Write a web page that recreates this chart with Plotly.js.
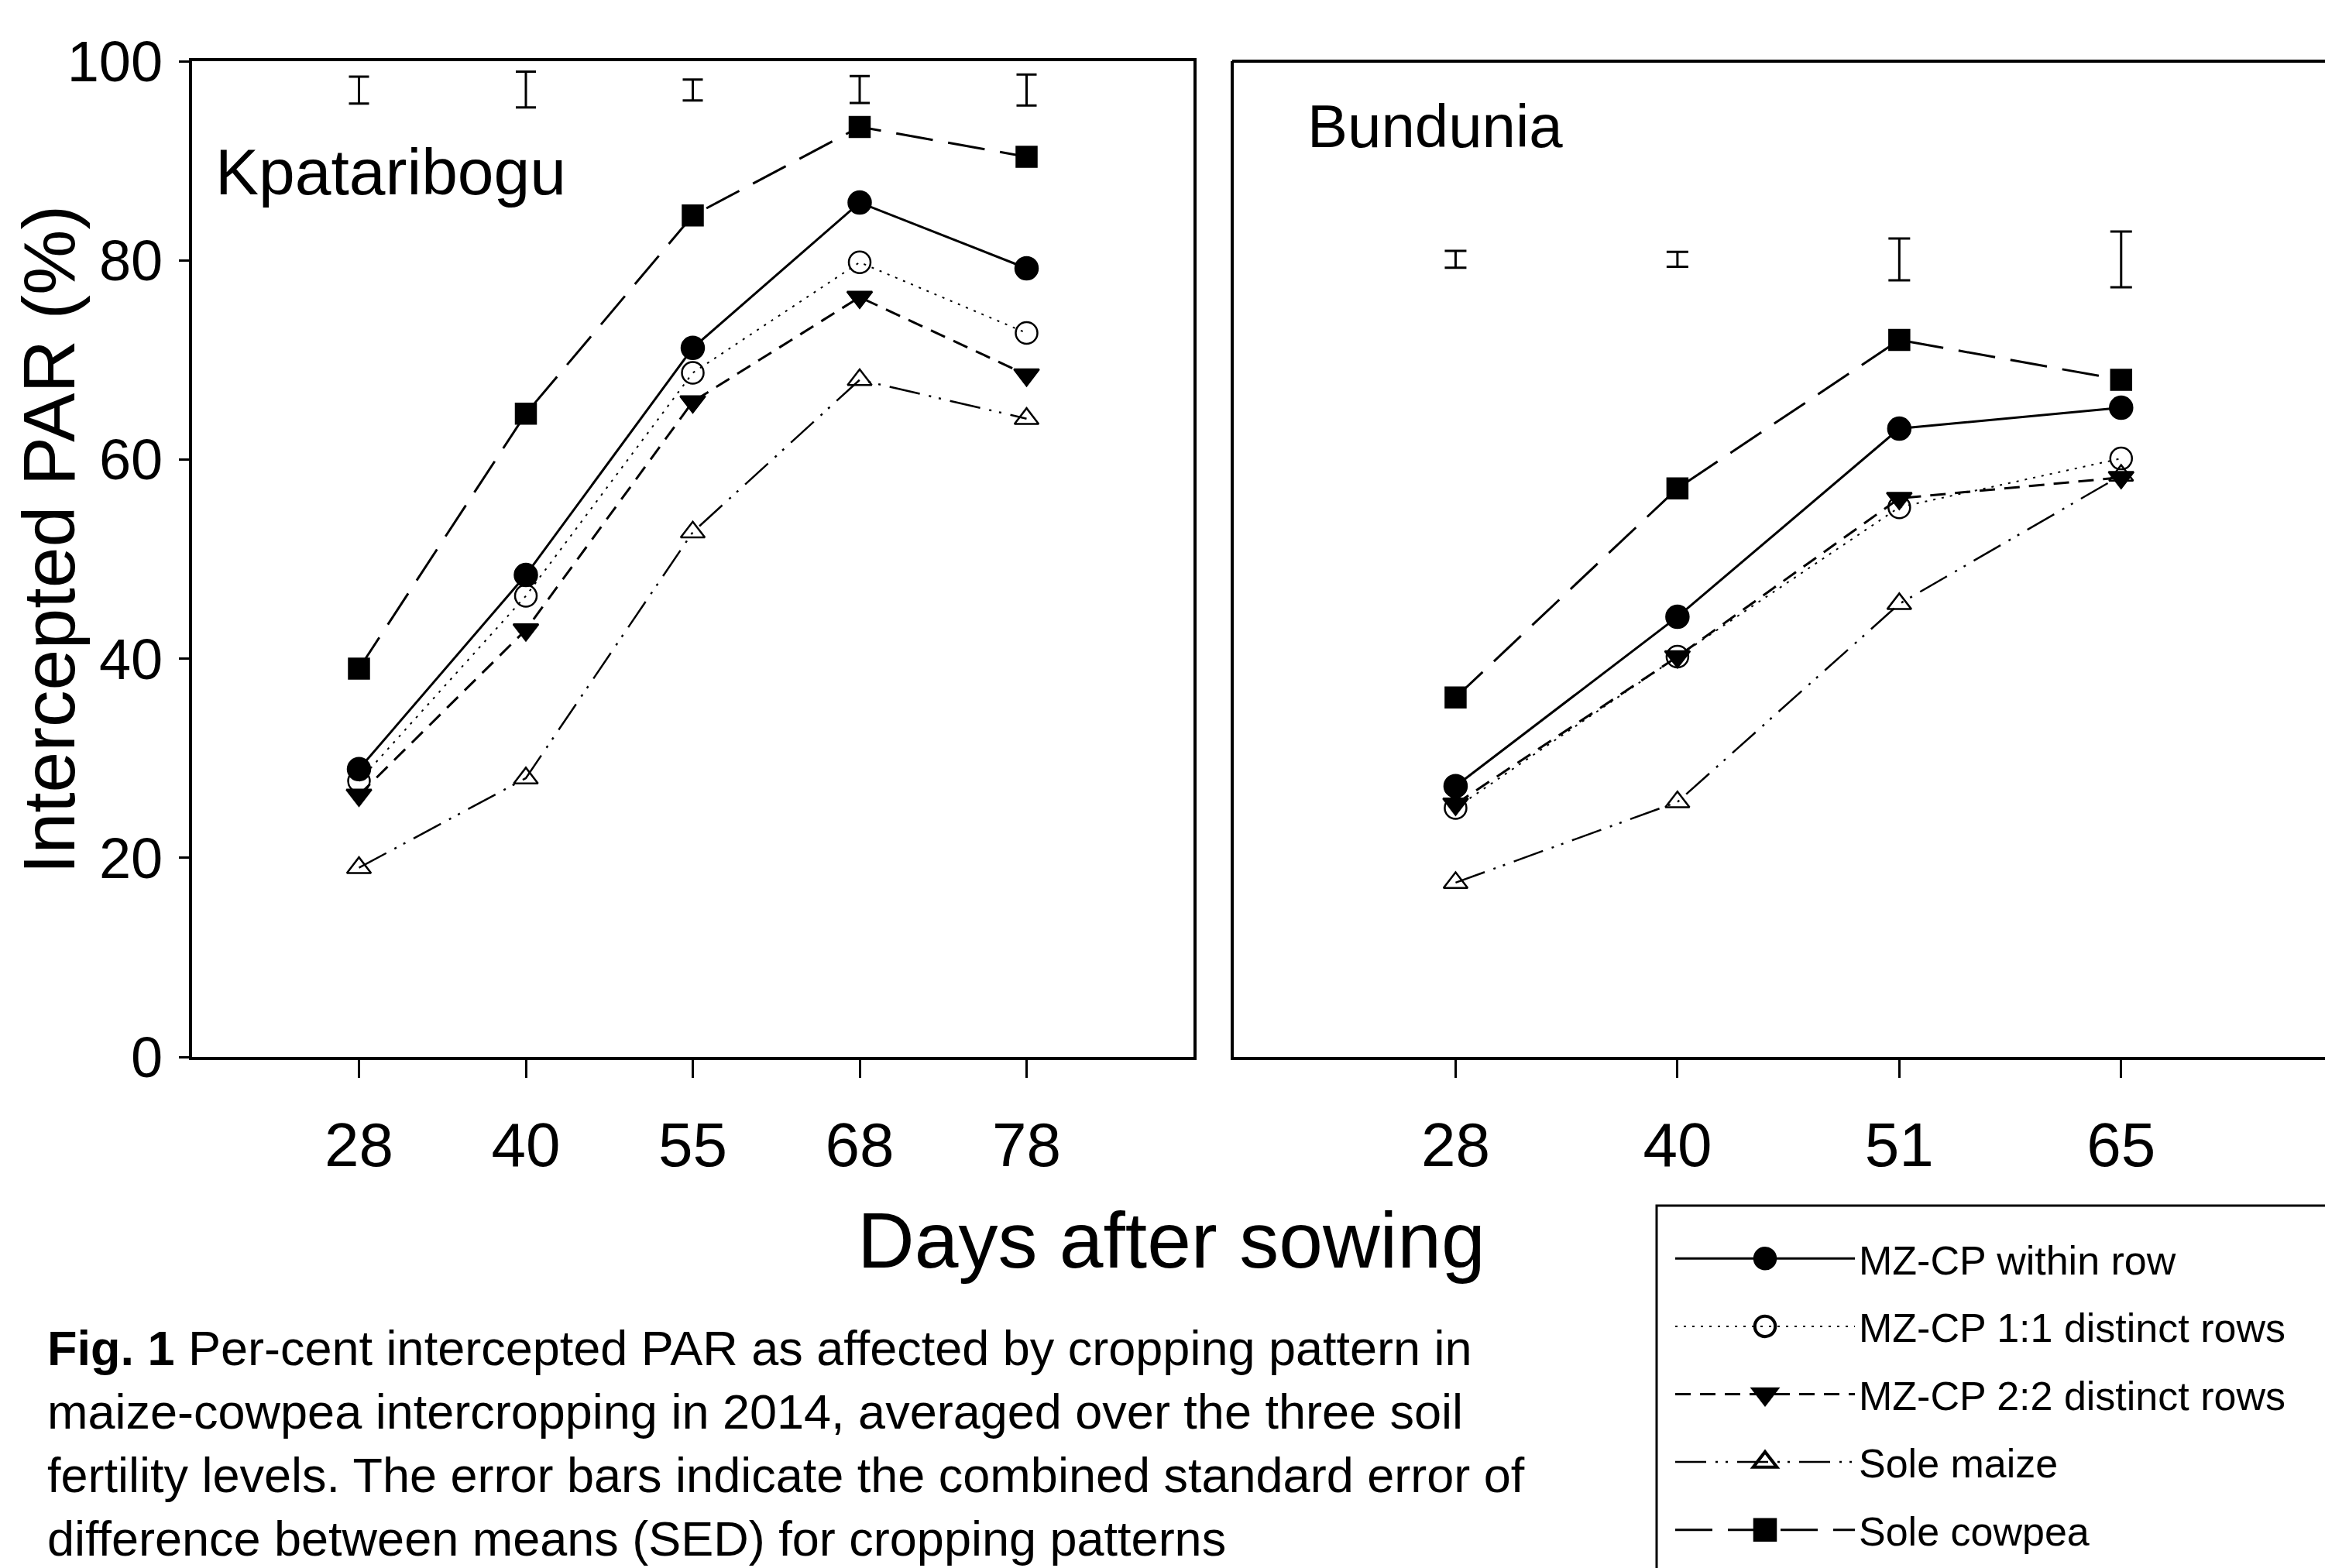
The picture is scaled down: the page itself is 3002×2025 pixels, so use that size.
<!DOCTYPE html>
<html>
<head>
<meta charset="utf-8">
<script src="https://cdn.plot.ly/plotly-3.0.1.min.js"></script>
<style>
html,body{margin:0;padding:0;background:#ffffff;}
#chart{width:3002px;height:2025px;}
</style>
</head>
<body>
<div id="chart"></div>
<script>
// ---------------- data ----------------
const daysKpataribogu = ['28', '40', '55', '68', '78'];
const daysBundunia = ['28', '40', '51', '65'];

const seriesNames = ['MZ-CP within row', 'MZ-CP 1:1 distinct rows', 'MZ-CP 2:2 distinct rows', 'Sole maize', 'Sole cowpea'];

// Kpataribogu (intercepted PAR, %)
const kpWithinRow = [28.9, 48.4, 71.2, 85.8, 79.2];
const kpDistinct11 = [27.7, 46.3, 68.7, 79.8, 72.7];
const kpDistinct22 = [26.3, 42.9, 65.8, 76.3, 68.5];
const kpSoleMaize = [19.0, 28.0, 52.7, 68.0, 64.1];
const kpSoleCowpea = [39.0, 64.6, 84.5, 93.4, 90.4];

// Bundunia (intercepted PAR, %)
const buWithinRow = [27.2, 44.2, 63.1, 65.2];
const buDistinct11 = [25.0, 40.2, 55.2, 60.1];
const buDistinct22 = [25.4, 40.2, 56.1, 58.2];
const buSoleMaize = [17.5, 25.6, 45.5, 58.4];
const buSoleCowpea = [36.1, 57.1, 72.0, 68.0];

// SED error bars (centre, half length)
const kpSedCentre = [97.1, 97.15, 97.1, 97.15, 97.1];
const kpSedHalf = [1.35, 1.8, 1.05, 1.35, 1.55];
const buSedCentre = [80.1, 80.1, 80.1, 80.1];
const buSedHalf = [0.85, 0.75, 2.1, 2.8];

// ---------------- styles ----------------
const ARIAL = "'Liberation Sans',Arial,Helvetica,sans-serif";
const W = 3002, H = 2025;

const styles = [
  {dash: 'solid', symbol: 'circle', size: 29, lw: 3},
  {dash: '3px,8px', symbol: 'circle-open', size: 28, lw: 2},
  {dash: '20px,12px', symbol: 'triangle-down', size: 28, lw: 3},
  {dash: '40px,12px,3px,10px,3px,12px', symbol: 'triangle-up-open', size: 27, lw: 2.5},
  {dash: '48px,20px', symbol: 'square', size: 26, lw: 3}
];

const kpSeries = [kpWithinRow, kpDistinct11, kpDistinct22, kpSoleMaize, kpSoleCowpea];
const buSeries = [buWithinRow, buDistinct11, buDistinct22, buSoleMaize, buSoleCowpea];

const traces = [];
seriesNames.forEach(function (name, i) {
  const s = styles[i];
  const marker = {symbol: s.symbol, size: s.size, color: '#000000', line: {color: '#000000', width: 2.5}};
  traces.push({
    type: 'scatter', mode: 'lines+markers', name: name, legendgroup: name,
    x: daysKpataribogu, y: kpSeries[i], xaxis: 'x', yaxis: 'y',
    line: {color: '#000000', width: s.lw, dash: s.dash},
    marker: marker, showlegend: true, hoverinfo: 'x+y+name'
  });
  traces.push({
    type: 'scatter', mode: 'lines+markers', name: name, legendgroup: name,
    x: daysBundunia, y: buSeries[i], xaxis: 'x2', yaxis: 'y2',
    line: {color: '#000000', width: s.lw, dash: s.dash},
    marker: marker, showlegend: false, hoverinfo: 'x+y+name'
  });
});

traces.push({
  type: 'scatter', mode: 'markers', name: 'SED', x: daysKpataribogu, y: kpSedCentre,
  xaxis: 'x', yaxis: 'y', showlegend: false, hoverinfo: 'skip',
  marker: {size: 1, color: 'rgba(0,0,0,0)'},
  error_y: {type: 'data', array: kpSedHalf, visible: true, color: '#000000', thickness: 3, width: 13}
});
traces.push({
  type: 'scatter', mode: 'markers', name: 'SED', x: daysBundunia, y: buSedCentre,
  xaxis: 'x2', yaxis: 'y2', showlegend: false, hoverinfo: 'skip',
  marker: {size: 1, color: 'rgba(0,0,0,0)'},
  error_y: {type: 'data', array: buSedHalf, visible: true, color: '#000000', thickness: 3, width: 14}
});

const yDomain = [1 - 1365 / H, 1 - 79 / H];

const commonX = {
  type: 'category', showgrid: false, zeroline: false,
  showline: true, linecolor: '#000000', linewidth: 4,
  ticks: 'outside', ticklen: 23, tickwidth: 3, tickcolor: '#000000',
  tickfont: {family: ARIAL, size: 80, color: '#000000'},
  ticklabelstandoff: 18, fixedrange: true
};

const layout = {
  width: W, height: H,
  margin: {l: 0, r: 0, t: 0, b: 0, pad: 0},
  paper_bgcolor: '#ffffff', plot_bgcolor: 'rgba(0,0,0,0)',
  showlegend: true,
  xaxis: Object.assign({}, commonX, {domain: [248 / W, 1541 / W], range: [-1, 5], anchor: 'y', mirror: true}),
  xaxis2: Object.assign({}, commonX, {domain: [1593 / W, 1], range: [-1, (3002 - 1880) / 286.3], anchor: 'y2', mirror: false}),
  yaxis: {
    domain: yDomain, range: [0, 100], anchor: 'x',
    tickvals: [0, 20, 40, 60, 80, 100], showgrid: false, zeroline: false,
    showline: true, linecolor: '#000000', linewidth: 4, mirror: true,
    ticks: 'outside', ticklen: 13, tickwidth: 3, tickcolor: '#000000',
    tickfont: {family: ARIAL, size: 74, color: '#000000'},
    ticklabelstandoff: 6, fixedrange: true
  },
  yaxis2: {
    domain: yDomain, range: [0, 100], anchor: 'x2',
    showticklabels: false, showgrid: false, zeroline: false,
    showline: true, linecolor: '#000000', linewidth: 4, mirror: false,
    ticks: '', fixedrange: true
  },
  legend: {
    x: 2158 / W, xanchor: 'left', y: 1 - 1585 / H, yanchor: 'top',
    borderwidth: 0, bgcolor: 'rgba(255,255,255,0)',
    font: {family: ARIAL, size: 52, color: '#000000'},
    itemwidth: 232, traceorder: 'grouped', tracegroupgap: 17,
    itemsizing: 'trace', itemclick: false
  },
  shapes: [
    // top frame line of the Bundunia panel (runs off the right edge as in the original)
    {type: 'line', xref: 'paper', yref: 'paper', x0: 1591 / W, x1: 1.01, y0: yDomain[1], y1: yDomain[1],
     line: {color: '#000000', width: 4}},
    // legend frame (runs off the right and bottom edges as in the original)
    {type: 'rect', xref: 'paper', yref: 'paper', x0: 2139 / W, x1: 1.01, y0: -0.01, y1: 1 - 1557 / H,
     line: {color: '#000000', width: 3}, fillcolor: 'rgba(0,0,0,0)'}
  ],
  annotations: [
    {text: 'Kpataribogu', xref: 'paper', yref: 'paper', x: 276 / W, y: 1 - 222 / H,
     xanchor: 'left', yanchor: 'middle', showarrow: false,
     font: {family: ARIAL, size: 84, color: '#000000'}},
    {text: 'Bundunia', xref: 'paper', yref: 'paper', x: 1686 / W, y: 1 - 163 / H,
     xanchor: 'left', yanchor: 'middle', showarrow: false,
     font: {family: ARIAL, size: 78, color: '#000000'}},
    {text: 'Intercepted PAR (%)', xref: 'paper', yref: 'paper', x: 63 / W, y: 1 - 697 / H,
     xanchor: 'center', yanchor: 'middle', textangle: -90, showarrow: false, borderpad: 0,
     font: {family: ARIAL, size: 95, color: '#000000'}},
    {text: 'Days after sowing', xref: 'paper', yref: 'paper', x: 1512 / W, y: 1 - 1602 / H,
     xanchor: 'center', yanchor: 'middle', showarrow: false,
     font: {family: ARIAL, size: 102, color: '#000000'}},
    {text: '<b>Fig. 1</b> Per-cent intercepted PAR as affected by cropping pattern in<br>' +
           'maize-cowpea intercropping in 2014, averaged over the three soil<br>' +
           'fertility levels. The error bars indicate the combined standard error of<br>' +
           'difference between means (SED) for cropping patterns',
     xref: 'paper', yref: 'paper', x: 60 / W, y: 2 / H,
     xanchor: 'left', yanchor: 'bottom', align: 'left', showarrow: false, borderpad: 0,
     font: {family: ARIAL, size: 63, color: '#000000'}}
  ]
};

Plotly.newPlot('chart', traces, layout, {displayModeBar: false, staticPlot: true}).then(function (gd) {
  // Plotly caps legend symbol size at 16 px; enlarge the legend markers to match the plotted ones.
  gd.querySelectorAll('.legend .legendpoints path').forEach(function (p) {
    const t = p.getAttribute('transform') || '';
    p.setAttribute('transform', t + ' scale(1.65)');
  });
});
</script>
</body>
</html>
